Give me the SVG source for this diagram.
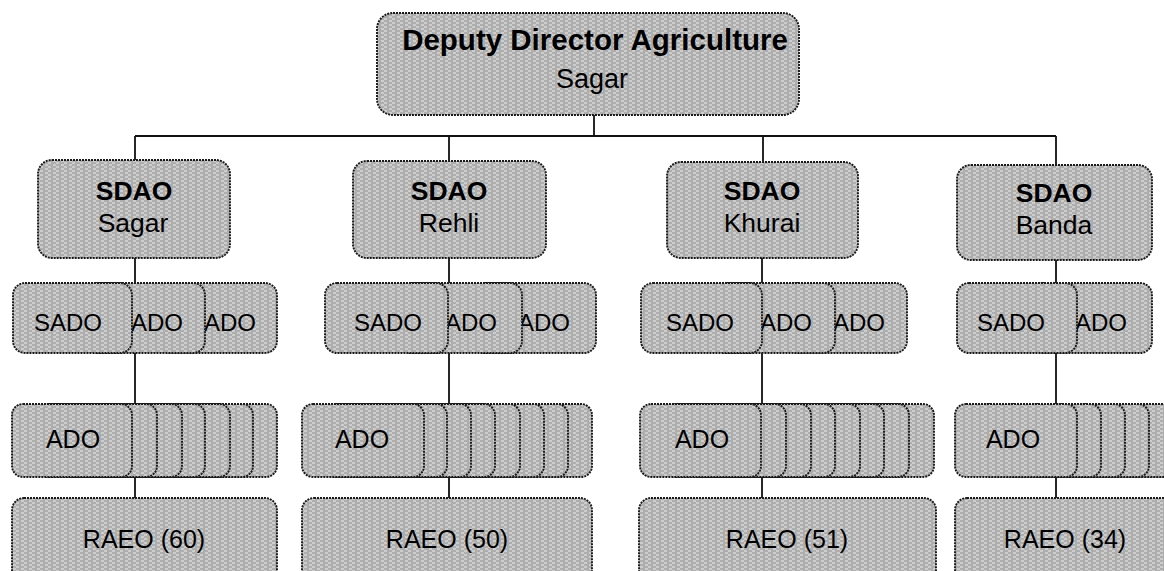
<svg xmlns="http://www.w3.org/2000/svg" width="1164" height="571" viewBox="0 0 1164 571">
<style>
.b{fill:url(#tex);stroke:#1a1a1a;stroke-width:1.9;stroke-dasharray:2 1}
.t{font-family:"Liberation Sans",Arial,sans-serif;font-size:25px;fill:#000}
.c{text-anchor:middle}
.bold{font-weight:bold}
.s24{font-size:24px}
.s27{font-size:26.5px}
.ln{stroke:#111;stroke-width:1.8;fill:none}
</style>
<defs>
<pattern id="tex" patternUnits="userSpaceOnUse" width="8" height="4">
<rect width="8" height="4" fill="#cdcdcd"/>
<path d="M0 1H5M3 3H8" stroke="#7c7c7c" stroke-width="0.8"/>
</pattern>
</defs>

<g id="connectors">
<path class="ln" d="M594 115V136M135 136H1056M135 136V160M449 136V161M763 136V162M1056 136V165"/>
<path class="ln" d="M135 258V283M135 353V404M135 477V498"/>
<path class="ln" d="M449 258V283M449 353V404M449 477V498"/>
<path class="ln" d="M762 258V283M762 353V404M762 477V498"/>
<path class="ln" d="M1056 260V283M1056 353V404M1056 477V498"/>
</g>

<g id="dda">
<rect class="b" x="377" y="13" width="422" height="102" rx="16"/>
<text class="t c bold" x="595" y="50" style="font-size:29.5px">Deputy Director Agriculture</text>
<text class="t c" x="592" y="88" style="font-size:27px">Sagar</text>
</g>

<g id="sdao-sagar">
<rect class="b" x="38" y="160" width="192" height="98" rx="14"/>
<text class="t c bold s27" x="134" y="200">SDAO</text>
<text class="t c s27" x="133" y="232">Sagar</text>
</g>
<g id="sdao-rehli">
<rect class="b" x="353" y="161" width="193" height="97" rx="14"/>
<text class="t c bold s27" x="449" y="200">SDAO</text>
<text class="t c s27" x="449" y="232">Rehli</text>
</g>
<g id="sdao-khurai">
<rect class="b" x="667" y="162" width="191" height="96" rx="14"/>
<text class="t c bold s27" x="762" y="200">SDAO</text>
<text class="t c s27" x="762" y="232">Khurai</text>
</g>
<g id="sdao-banda">
<rect class="b" x="957" y="165" width="195" height="95" rx="14"/>
<text class="t c bold s27" x="1054" y="202">SDAO</text>
<text class="t c s27" x="1054" y="234">Banda</text>
</g>

<g id="sado-sagar">
<rect class="b" x="158" y="283" width="119" height="70" rx="12"/>
<text class="t s24" x="204" y="331">ADO</text>
<rect class="b" x="86" y="283" width="119" height="70" rx="12"/>
<text class="t s24" x="131" y="331">ADO</text>
<rect class="b" x="13" y="283" width="119" height="70" rx="12"/>
<text class="t c s24" x="68" y="331">SADO</text>
</g>
<g id="sado-rehli">
<rect class="b" x="473" y="283" width="123" height="70" rx="12"/>
<text class="t s24" x="518" y="331">ADO</text>
<rect class="b" x="399" y="283" width="123" height="70" rx="12"/>
<text class="t s24" x="445" y="331">ADO</text>
<rect class="b" x="325" y="283" width="123" height="70" rx="12"/>
<text class="t c s24" x="388" y="331">SADO</text>
</g>
<g id="sado-khurai">
<rect class="b" x="786" y="283" width="121" height="70" rx="12"/>
<text class="t s24" x="833" y="331">ADO</text>
<rect class="b" x="714" y="283" width="121" height="70" rx="12"/>
<text class="t s24" x="760" y="331">ADO</text>
<rect class="b" x="641" y="283" width="121" height="70" rx="12"/>
<text class="t c s24" x="700" y="331">SADO</text>
</g>
<g id="sado-banda">
<rect class="b" x="1032" y="283" width="120" height="70" rx="12"/>
<text class="t s24" x="1075" y="331">ADO</text>
<rect class="b" x="957" y="283" width="120" height="70" rx="12"/>
<text class="t c s24" x="1011" y="331">SADO</text>
</g>

<g id="ado-sagar">
<rect class="b" x="157" y="404" width="120" height="73" rx="11"/>
<rect class="b" x="133" y="404" width="120" height="73" rx="11"/>
<rect class="b" x="110" y="404" width="120" height="73" rx="11"/>
<rect class="b" x="85" y="404" width="120" height="73" rx="11"/>
<rect class="b" x="62" y="404" width="120" height="73" rx="11"/>
<rect class="b" x="37" y="404" width="120" height="73" rx="11"/>
<rect class="b" x="12" y="404" width="120" height="73" rx="11"/>
<text class="t c" x="73" y="448">ADO</text>
</g>
<g id="ado-rehli">
<rect class="b" x="470" y="404" width="122" height="73" rx="11"/>
<rect class="b" x="446" y="404" width="122" height="73" rx="11"/>
<rect class="b" x="422" y="404" width="122" height="73" rx="11"/>
<rect class="b" x="398" y="404" width="122" height="73" rx="11"/>
<rect class="b" x="373" y="404" width="122" height="73" rx="11"/>
<rect class="b" x="349" y="404" width="122" height="73" rx="11"/>
<rect class="b" x="325" y="404" width="122" height="73" rx="11"/>
<rect class="b" x="302" y="404" width="122" height="73" rx="11"/>
<text class="t c" x="362" y="448">ADO</text>
</g>
<g id="ado-khurai">
<rect class="b" x="813" y="404" width="121" height="73" rx="11"/>
<rect class="b" x="788" y="404" width="121" height="73" rx="11"/>
<rect class="b" x="763" y="404" width="121" height="73" rx="11"/>
<rect class="b" x="739" y="404" width="121" height="73" rx="11"/>
<rect class="b" x="714" y="404" width="121" height="73" rx="11"/>
<rect class="b" x="690" y="404" width="121" height="73" rx="11"/>
<rect class="b" x="665" y="404" width="121" height="73" rx="11"/>
<rect class="b" x="640" y="404" width="121" height="73" rx="11"/>
<text class="t c" x="702" y="448">ADO</text>
</g>
<g id="ado-banda">
<rect class="b" x="1075" y="404" width="122" height="73" rx="11"/>
<rect class="b" x="1051" y="404" width="122" height="73" rx="11"/>
<rect class="b" x="1027" y="404" width="122" height="73" rx="11"/>
<rect class="b" x="1003" y="404" width="122" height="73" rx="11"/>
<rect class="b" x="979" y="404" width="122" height="73" rx="11"/>
<rect class="b" x="955" y="404" width="122" height="73" rx="11"/>
<text class="t c" x="1013" y="448">ADO</text>
</g>

<g id="raeo-sagar">
<rect class="b" x="12" y="498" width="265" height="90" rx="12"/>
<text class="t c" x="144" y="548">RAEO (60)</text>
</g>
<g id="raeo-rehli">
<rect class="b" x="302" y="498" width="290" height="90" rx="12"/>
<text class="t c" x="447" y="548">RAEO (50)</text>
</g>
<g id="raeo-khurai">
<rect class="b" x="639" y="498" width="297" height="90" rx="12"/>
<text class="t c" x="787" y="548">RAEO (51)</text>
</g>
<g id="raeo-banda">
<rect class="b" x="955" y="498" width="220" height="90" rx="12"/>
<text class="t c" x="1065" y="548">RAEO (34)</text>
</g>
</svg>
